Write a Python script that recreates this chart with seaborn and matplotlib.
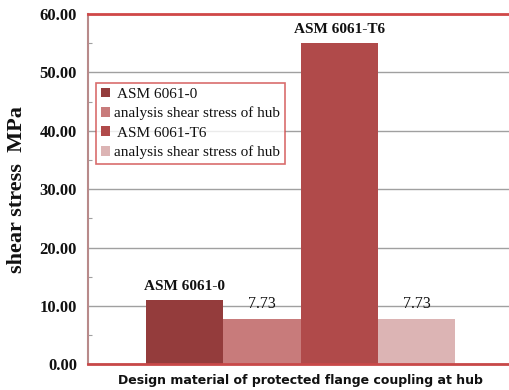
import matplotlib
matplotlib.use("Agg")
import matplotlib.pyplot as plt
from matplotlib.ticker import MultipleLocator, FormatStrFormatter
import seaborn as sns
import pandas as pd

# Series shown as bars
series = ["ASM 6061-0", "analysis shear stress of hub",
          "ASM 6061-T6", "analysis shear stress of hub"]
values = [11.0, 7.73, 55.0, 7.73]
bar_labels = ["ASM 6061-0", "7.73", "ASM 6061-T6", "7.73"]
label_bold = [True, False, True, False]
colors = ["#943c3c", "#c87b7b", "#b04a4a", "#dcb4b4"]
y_ticks = [0, 10, 20, 30, 40, 50, 60]

sns.set_theme(style="white")
plt.rcParams["font.family"] = ["Liberation Serif", "DejaVu Serif"]

df = pd.DataFrame({"key": [f"s{i}" for i in range(len(values))],
                   "value": values})

fig = plt.figure(figsize=(5.09, 3.90), dpi=100)
ax = fig.add_axes([0.1729, 0.0659, 0.835, 0.898])

sns.barplot(data=df, x="key", y="value", hue="key", palette=colors,
            width=1.0, legend=False, saturation=1, ax=ax, linewidth=0)

ax.set_xlim(-1.25, 4.25)
ax.set_ylim(0, 60)
ax.set_yticks(y_ticks)
ax.yaxis.set_major_formatter(FormatStrFormatter("%.2f"))
ax.yaxis.set_minor_locator(MultipleLocator(5))
ax.set_xticks([])
ax.grid(axis="y", which="major", color="#a0a0a0", linewidth=1.0)
ax.set_axisbelow(True)
ax.tick_params(axis="y", which="major", length=0, pad=8)
ax.tick_params(axis="y", which="minor", length=3, width=0.8,
               color="#a0a0a0", direction="in", left=True)
for lab in ax.get_yticklabels():
    lab.set_fontweight("bold")
    lab.set_fontsize(12)
    lab.set_color("#111111")

ax.spines["right"].set_visible(False)
ax.spines["top"].set_color("#d04848")
ax.spines["top"].set_linewidth(2.0)
ax.spines["bottom"].set_color("#c84848")
ax.spines["bottom"].set_linewidth(2.0)
ax.spines["left"].set_color("#b88a8a")
ax.spines["left"].set_linewidth(1.5)

# Value / material labels above bars
for i, (v, t, b) in enumerate(zip(values, bar_labels, label_bold)):
    ax.annotate(t, xy=(i, v), xytext=(0, 5), textcoords="offset points",
                ha="center", va="bottom", fontsize=11.5 if not b else 11,
                fontweight="bold" if b else "normal", color="#111111")

ax.set_ylabel("shear stress  MPa", fontsize=16, fontweight="bold",
              color="#111111", labelpad=9)
ax.set_xlabel("Design material of protected flange coupling at hub",
              fontsize=9, fontweight="bold", family=["DejaVu Sans"],
              color="#111111", labelpad=7)

handles = list(ax.patches)
leg_labels = [" " + s if s.startswith("ASM") else s for s in series]
leg = ax.legend(handles, leg_labels, loc="upper left",
                bbox_to_anchor=(0.019, 0.803), frameon=True, fancybox=False,
                edgecolor="#d04848", fontsize=11, handlelength=0.6,
                handleheight=0.6, handletextpad=0.3, labelspacing=0.38,
                borderpad=0.3, borderaxespad=0)
leg.get_frame().set_linewidth(1.2)
for t in leg.get_texts():
    t.set_color("#111111")

fig.savefig("out.png", dpi=100)
